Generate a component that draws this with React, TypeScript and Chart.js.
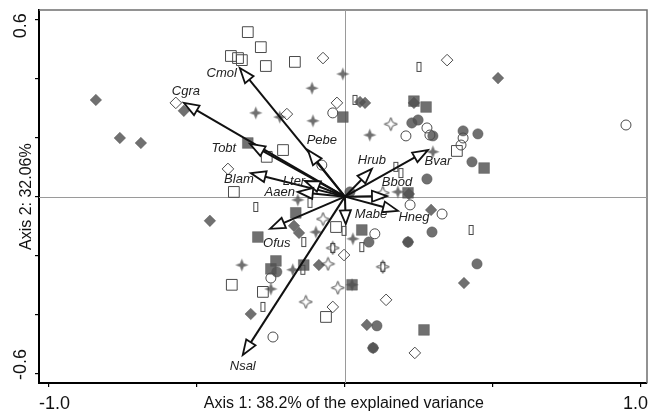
import React, { useEffect, useRef } from "react";
import { Chart, registerables } from "chart.js";

Chart.register(...registerables);

type P = [number, number];

// ---- sample scores (Axis 1, Axis 2) by marker type ----
const filledDiamonds: P[] = [
  [-0.841, 0.328], [-0.76, 0.199], [-0.689, 0.182], [-0.544, 0.291],
  [0.517, 0.402], [0.051, 0.321], [0.068, 0.318], [0.233, 0.318],
  [-0.456, -0.082], [-0.172, -0.099], [-0.155, -0.123], [-0.088, -0.232],
  [-0.318, -0.398], [0.074, -0.435], [0.291, -0.045], [0.402, -0.293],
  [0.213, -0.154], [0.095, -0.513], [0.216, 0.009],
];
const filledSquares: P[] = [
  [-0.007, 0.27], [-0.328, 0.182], [0.233, 0.324], [0.274, 0.304],
  [0.47, 0.097], [0.213, 0.013], [-0.166, -0.055], [-0.294, -0.137],
  [0.057, -0.113], [-0.233, -0.218], [-0.25, -0.245], [-0.139, -0.232],
  [0.024, -0.299], [0.267, -0.452],
];
const filledCircles: P[] = [
  [0.017, 0.016], [0.226, 0.25], [0.247, 0.26], [0.297, 0.206],
  [0.399, 0.223], [0.449, 0.213], [0.429, 0.118], [0.277, 0.06],
  [0.081, -0.154], [0.213, -0.154], [-0.23, -0.255], [0.108, -0.438],
  [0.095, -0.513], [0.294, -0.12], [0.446, -0.228],
];
const openCircles: P[] = [
  [-0.041, 0.284], [-0.078, 0.107], [0.206, 0.206], [0.277, 0.233],
  [0.287, 0.209], [0.399, 0.199], [0.392, 0.175], [0.949, 0.243],
  [0.101, -0.126], [-0.25, -0.276], [-0.243, -0.476], [0.22, -0.028],
  [0.328, -0.059],
];
const openSquares: P[] = [
  [-0.328, 0.558], [-0.284, 0.507], [-0.385, 0.477], [-0.361, 0.47],
  [-0.348, 0.463], [-0.267, 0.443], [-0.169, 0.457], [-0.209, 0.158],
  [-0.264, 0.135], [-0.375, 0.016], [0.378, 0.155], [-0.03, -0.103],
  [-0.382, -0.299], [-0.277, -0.323], [-0.064, -0.408],
];
const openDiamonds: P[] = [
  [-0.571, 0.318], [-0.074, 0.47], [-0.027, 0.318], [-0.196, 0.28],
  [-0.395, 0.094], [0.345, 0.463], [-0.003, -0.198], [0.139, -0.35],
  [-0.041, -0.374], [0.236, -0.53],
];
const filledStars: P[] = [
  [-0.007, 0.416], [-0.111, 0.368], [-0.301, 0.284], [-0.22, 0.27],
  [-0.108, 0.257], [0.084, 0.209], [0.297, 0.152], [0.179, 0.016],
  [-0.159, -0.011], [-0.098, -0.12], [0.027, -0.143], [-0.348, -0.232],
  [-0.176, -0.248], [-0.25, -0.313], [0.024, -0.299],
];
const openStars: P[] = [
  [0.155, 0.246], [-0.074, -0.076], [-0.057, -0.228], [-0.132, -0.357],
  [-0.024, -0.309], [0.128, -0.238], [-0.041, -0.174], [0.128, 0.013],
];
const narrowRects: P[] = [
  [0.034, 0.328], [0.25, 0.44], [0.172, 0.101], [0.189, 0.08],
  [-0.301, -0.035], [-0.118, -0.021], [-0.139, -0.154], [-0.003, -0.116],
  [0.057, -0.171], [-0.041, -0.174], [-0.142, -0.248], [0.128, -0.238],
  [-0.277, -0.374], [0.426, -0.113],
];

// ---- species vectors ----
const arrowNames = ["Cgra", "Cmol", "Tobt", "Pebe", "Blam", "Lter", "Aaen", "Hrub", "Bvar", "Bbod", "Hneg", "Mabe", "Ofus", "Nsal"];
const arrowX = [-0.544, -0.355, -0.321, -0.125, -0.318, -0.135, -0.159, 0.091, 0.28, 0.142, 0.179, 0.003, -0.253, -0.345];
const arrowY = [0.318, 0.436, 0.179, 0.158, 0.08, 0.053, 0.016, 0.094, 0.158, 0.002, -0.048, -0.093, -0.109, -0.537];
const labelX = [-0.537, -0.416, -0.409, -0.078, -0.358, -0.172, -0.22, 0.091, 0.314, 0.176, 0.233, 0.088, -0.23, -0.345];
const labelY = [0.358, 0.419, 0.165, 0.192, 0.057, 0.053, 0.016, 0.124, 0.118, 0.05, -0.069, -0.059, -0.157, -0.574];

// ---- axes ----
const xTickValues = [-1, -0.5, 0, 0.5, 1];
const yTickValues = [-0.6, -0.4, -0.2, 0, 0.2, 0.4, 0.6];
const xTickLabels = ["-1.0", "1.0"];
const yTickLabels = ["-0.6", "0.6"];
const xTitle = "Axis 1: 38.2% of the explained variance";
const yTitle = "Axis 2: 32.06%";

const FILL = "rgba(80,80,80,0.82)";
const EDGE = "#4a4a4a";
const FONT = "'Liberation Sans', Arial, sans-serif";

function starCanvas(filled: boolean): HTMLCanvasElement {
  const c = document.createElement("canvas");
  c.width = 15;
  c.height = 15;
  const ctx = c.getContext("2d")!;
  const m = 7.5;
  const R = 6.6;
  const r = 2.6;
  ctx.beginPath();
  for (let i = 0; i < 8; i++) {
    const a = -Math.PI / 2 + (i * Math.PI) / 4;
    const rad = i % 2 === 0 ? R : r;
    ctx.lineTo(m + rad * Math.cos(a), m + rad * Math.sin(a));
  }
  ctx.closePath();
  if (filled) {
    ctx.fillStyle = FILL;
    ctx.fill();
  } else {
    ctx.strokeStyle = EDGE;
    ctx.lineWidth = 1;
    ctx.stroke();
  }
  return c;
}

function narrowCanvas(): HTMLCanvasElement {
  const c = document.createElement("canvas");
  c.width = 7;
  c.height = 12;
  const ctx = c.getContext("2d")!;
  ctx.strokeStyle = EDGE;
  ctx.lineWidth = 1;
  ctx.strokeRect(1.5, 1.5, 4, 9);
  return c;
}

const toPts = (a: P[]) => a.map(([x, y]) => ({ x, y }));

const biplotPlugin = {
  id: "biplot",
  beforeDatasetsDraw(chart: any) {
    const { ctx, chartArea: a, scales } = chart;
    const xs = scales.x;
    const ys = scales.y;
    ctx.save();
    ctx.strokeStyle = "#6f6f6f";
    ctx.lineWidth = 1.5;
    ctx.beginPath();
    ctx.moveTo(a.left, a.top);
    ctx.lineTo(a.right, a.top);
    ctx.lineTo(a.right, a.bottom);
    ctx.stroke();
    const x0 = xs.getPixelForValue(0);
    const y0 = ys.getPixelForValue(0);
    ctx.strokeStyle = "#9a9a9a";
    ctx.lineWidth = 1;
    ctx.beginPath();
    ctx.moveTo(Math.round(x0) + 0.5, a.top);
    ctx.lineTo(Math.round(x0) + 0.5, a.bottom);
    ctx.moveTo(a.left, Math.round(y0) + 0.5);
    ctx.lineTo(a.right, Math.round(y0) + 0.5);
    ctx.stroke();
    ctx.restore();
  },
  afterDatasetsDraw(chart: any) {
    const { ctx, scales } = chart;
    const xs = scales.x;
    const ys = scales.y;
    const ox = xs.getPixelForValue(0);
    const oy = ys.getPixelForValue(0);
    ctx.save();
    ctx.lineJoin = "miter";
    for (let i = 0; i < arrowNames.length; i++) {
      const tx = xs.getPixelForValue(arrowX[i]);
      const ty = ys.getPixelForValue(arrowY[i]);
      const dx = tx - ox;
      const dy = ty - oy;
      const len = Math.hypot(dx, dy);
      const ux = dx / len;
      const uy = dy / len;
      const hl = Math.min(15, len * 0.5);
      const hw = 5.5;
      const bx = tx - ux * hl;
      const by = ty - uy * hl;
      ctx.strokeStyle = "#111";
      ctx.lineWidth = 2;
      ctx.beginPath();
      ctx.moveTo(ox, oy);
      ctx.lineTo(bx, by);
      ctx.stroke();
      ctx.beginPath();
      ctx.moveTo(tx, ty);
      ctx.lineTo(bx - uy * hw, by + ux * hw);
      ctx.lineTo(bx + uy * hw, by - ux * hw);
      ctx.closePath();
      ctx.fillStyle = "#fff";
      ctx.fill();
      ctx.lineWidth = 1.8;
      ctx.stroke();
    }
    ctx.fillStyle = "#222";
    ctx.font = `italic 13px ${FONT}`;
    ctx.textAlign = "center";
    ctx.textBaseline = "middle";
    for (let i = 0; i < arrowNames.length; i++) {
      ctx.fillText(arrowNames[i], xs.getPixelForValue(labelX[i]), ys.getPixelForValue(labelY[i]));
    }
    ctx.restore();
  },
  afterDraw(chart: any) {
    const { ctx, chartArea: a, scales } = chart;
    const xs = scales.x;
    const ys = scales.y;
    ctx.save();
    ctx.fillStyle = "#111";
    // x tick labels
    ctx.font = `18px ${FONT}`;
    ctx.textBaseline = "alphabetic";
    ctx.textAlign = "left";
    ctx.fillText(xTickLabels[0], a.left, 409);
    ctx.textAlign = "right";
    ctx.fillText(xTickLabels[1], xs.getPixelForValue(1) + 7, 409);
    // x title
    ctx.font = `16px ${FONT}`;
    ctx.textAlign = "center";
    ctx.fillText(xTitle, xs.getPixelForValue(0) - 1, 408);
    // y tick labels (rotated)
    const rot = (text: string, x: number, y: number, font: string) => {
      ctx.save();
      ctx.translate(x, y);
      ctx.rotate(-Math.PI / 2);
      ctx.font = font;
      ctx.textAlign = "center";
      ctx.textBaseline = "alphabetic";
      ctx.fillText(text, 0, 0);
      ctx.restore();
    };
    rot(yTickLabels[1], 26, ys.getPixelForValue(0.6) + 6, `18px ${FONT}`);
    rot(yTickLabels[0], 26, ys.getPixelForValue(-0.6) - 9, `18px ${FONT}`);
    rot(yTitle, 31, ys.getPixelForValue(0), `16px ${FONT}`);
    ctx.restore();
  },
};

export default function App() {
  const ref = useRef<HTMLCanvasElement>(null);
  useEffect(() => {
    document.body.style.margin = "0";
    const canvas = ref.current!;
    const starF = starCanvas(true);
    const starO = starCanvas(false);
    const narrow = narrowCanvas();
    const open = (data: P[], style: any, radius: number) => ({
      data: toPts(data),
      pointStyle: style,
      pointRadius: radius,
      backgroundColor: "rgba(0,0,0,0)",
      borderColor: EDGE,
      pointBorderWidth: 1,
      borderWidth: 1,
    });
    const filled = (data: P[], style: any, radius: number) => ({
      data: toPts(data),
      pointStyle: style,
      pointRadius: radius,
      backgroundColor: FILL,
      borderColor: FILL,
      pointBorderWidth: 0.5,
      borderWidth: 0.5,
    });
    const chart = new Chart(canvas, {
      type: "scatter",
      data: {
        datasets: [
          open(openCircles, "circle", 5),
          open(openSquares, "rect", 7.6),
          open(openDiamonds, "rectRot", 5.8),
          open(openStars, starO, 7),
          open(narrowRects, narrow, 6),
          filled(filledStars, starF, 7),
          filled(filledDiamonds, "rectRot", 5.8),
          filled(filledCircles, "circle", 5.2),
          filled(filledSquares, "rect", 7.6),
        ] as any,
      },
      options: {
        responsive: false,
        animation: false,
        devicePixelRatio: 1,
        events: [],
        layout: { autoPadding: false, padding: { top: 10, right: 2, left: 0, bottom: 0 } },
        plugins: { legend: { display: false }, tooltip: { enabled: false } },
        scales: {
          x: {
            type: "linear",
            min: -1.033,
            max: 1.02,
            afterBuildTicks: (s: any) => {
              s.ticks = xTickValues.map((v) => ({ value: v }));
            },
            afterFit: (s: any) => {
              s.height = 33;
            },
            ticks: { display: false },
            grid: { display: true, drawOnChartArea: false, drawTicks: true, tickLength: 4, color: "#000", lineWidth: 1.2 },
            border: { display: true, color: "#000", width: 2 },
          },
          y: {
            type: "linear",
            min: -0.632,
            max: 0.633,
            afterBuildTicks: (s: any) => {
              s.ticks = yTickValues.map((v) => ({ value: v }));
            },
            afterFit: (s: any) => {
              s.width = 39;
            },
            ticks: { display: false },
            grid: { display: true, drawOnChartArea: false, drawTicks: true, tickLength: 4, color: "#000", lineWidth: 1.2 },
            border: { display: true, color: "#000", width: 2 },
          },
        },
      } as any,
      plugins: [biplotPlugin],
    });
    return () => chart.destroy();
  }, []);
  return <canvas ref={ref} width={649} height={416} style={{ display: "block" }} />;
}
